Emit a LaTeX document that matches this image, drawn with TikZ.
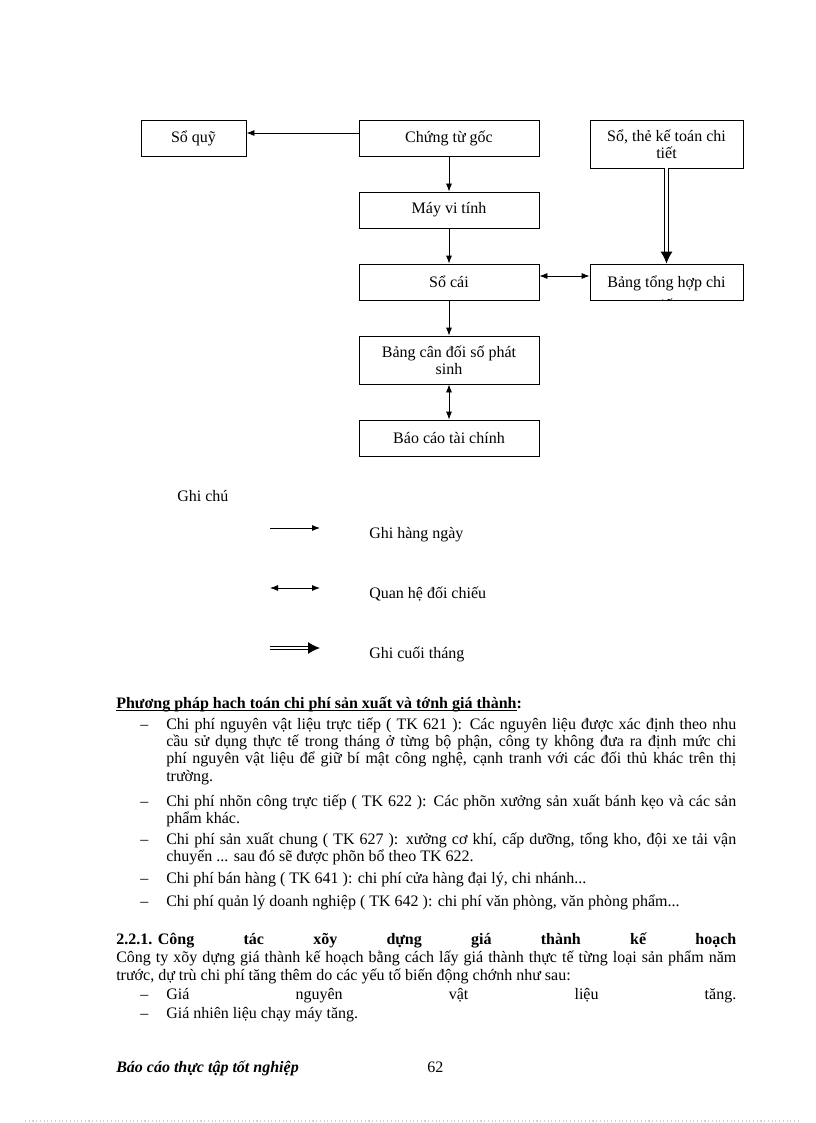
\documentclass[tikz,border=0pt]{standalone}
\usepackage{fontspec}
\setmainfont{Liberation Serif}
\usetikzlibrary{arrows.meta}
\newcommand{\fullLine}[1]{\makebox[427.5pt][s]{#1}}
\newcommand{\wideLine}[1]{\makebox[465pt][s]{#1}}

\begin{document}
\begin{tikzpicture}[x=0.75pt, y=-0.75pt,
        every node/.style={font=\fontsize{12}{12.75}\selectfont}]
        \tikzstyle{boxStyle} = [rectangle,draw=black,line width=0.6pt,minimum width=135pt,minimum height=27pt,inner sep=0pt]
        \tikzstyle{blackEdge} = [draw=black, line width=0.6pt, -{Latex[length=6pt,width=4.5pt]}]
        \tikzstyle{bothEdge} = [draw=black, line width=0.6pt, {Latex[length=6pt,width=4.5pt]}-{Latex[length=6pt,width=4.5pt]}]
        \tikzstyle{doubleEdge} = [draw=black, line width=0.75pt, double, double distance=2pt, -{Latex[length=9pt,width=9pt]}]
        \tikzstyle{textLine} = [anchor=base west, inner sep=0pt]
        \useasboundingbox (0,0) rectangle (816,1123);
        % chart
        \node[boxStyle, minimum width=78.75pt] (Q) at (193.5,138) {Sổ quỹ};
        \node[boxStyle] (G) at (449,138) {Chứng từ gốc};
        \node[boxStyle, minimum width=114.75pt, minimum height=36pt, align=center] (T) at (666.5,144) {Sổ, thẻ kế toán chi\\tiết};
        \node[boxStyle] (M) at (449,210) {Máy vi tính};
        \node[boxStyle] (C) at (449,282) {Sổ cái};
        \node[boxStyle, minimum width=114.75pt] (H) at (666.5,282) {};
        \begin{scope}
            \clip (H.south west) rectangle (H.north east);
            \node[align=center, anchor=north, inner sep=0pt, yshift=-8.75pt] (Ht) at (H.north) {Bảng tổng hợp chi\\[4.5pt]tiết};
        \end{scope}
        \node[boxStyle, minimum height=36pt, align=center] (B) at (449,360) {Bảng cân đối số phát\\sinh};
        \node[boxStyle] (R) at (449,438) {Báo cáo tài chính};
        \path ([yshift=3.75pt]G.west) edge[blackEdge] ([yshift=3.75pt]Q.east);
        \path (G) edge[blackEdge] (M);
        \path (M) edge[blackEdge] (C);
        \path (C) edge[blackEdge] (B);
        \path (B) edge[bothEdge] (R);
        \path ([yshift=4.5pt]C.east) edge[bothEdge] ([yshift=4.5pt]H.west);
        \path (T) edge[doubleEdge] (H);
        % legend
        \node[textLine] (K) at (177,501) {Ghi chú};
        \coordinate (A1) at (270,528);
        \coordinate (B1) at (320,528);
        \coordinate (A2) at (270,588);
        \coordinate (B2) at (320,588);
        \coordinate (A3) at (270,648);
        \coordinate (B3) at (320,648);
        \path (A1) edge[blackEdge] (B1);
        \path (A2) edge[bothEdge] (B2);
        \path (A3) edge[doubleEdge] (B3);
        \node[textLine] (K1) at (369,538) {Ghi hàng ngày};
        \node[textLine] (K2) at (369,598) {Quan hệ đối chiếu};
        \node[textLine] (K3) at (369,658) {Ghi cuối tháng};
        % text
        \node[textLine] (P) at (116,708) {\bfseries\underbar{Phương pháp hach toán chi phí sản xuất và tớnh giá thành}:};
        \node[textLine] (D1) at (140,729) {–};
        \node[textLine] (P1) at (166,729) {\fullLine{Chi phí nguyên vật liệu trực tiếp ( TK 621 ): Các nguyên liệu được xác định theo nhu}};
        \node[textLine] (P2) at (166,746) {\fullLine{cầu sử dụng thực tế trong tháng ở từng bộ phận, công ty không đưa ra định mức chi}};
        \node[textLine] (P3) at (166,763) {\fullLine{phí nguyên vật liệu để giữ bí mật công nghệ, cạnh tranh với các đối thủ khác trên thị}};
        \node[textLine] (P4) at (166,781) {trường.};
        \node[textLine] (D2) at (140,806) {–};
        \node[textLine] (P5) at (166,806) {\fullLine{Chi phí nhõn công trực tiếp ( TK 622 ): Các phõn xưởng sản xuất bánh kẹo và các sản}};
        \node[textLine] (P6) at (166,823) {phẩm khác.};
        \node[textLine] (D3) at (140,844) {–};
        \node[textLine] (P7) at (166,844) {\fullLine{Chi phí sản xuất chung ( TK 627 ): xưởng cơ khí, cấp dưỡng, tổng kho, đội xe tải vận}};
        \node[textLine] (P8) at (166,861) {chuyển ... sau đó sẽ được phõn bổ theo TK 622.};
        \node[textLine] (D4) at (140,883) {–};
        \node[textLine] (P9) at (166,883) {Chi phí bán hàng ( TK 641 ): chi phí cửa hàng đại lý, chi nhánh...};
        \node[textLine] (D5) at (140,906) {–};
        \node[textLine] (P10) at (166,906) {Chi phí quản lý doanh nghiệp ( TK 642 ): chi phí văn phòng, văn phòng phẩm...};
        \node[textLine] (S) at (116,944) {\bfseries\wideLine{2.2.1.\hspace{0.35em}Công tác xõy dựng giá thành kế hoạch}};
        \node[textLine] (S1) at (116,962) {\wideLine{Công ty xõy dựng giá thành kế hoạch bằng cách lấy giá thành thực tế từng loại sản phẩm năm}};
        \node[textLine] (S2) at (116,980) {trước, dự trù chi phí tăng thêm do các yếu tố biến động chớnh như sau:};
        \node[textLine] (D6) at (140,999) {–};
        \node[textLine] (S3) at (166,999) {\fullLine{Giá nguyên vật liệu tăng.}};
        \node[textLine] (D7) at (140,1018) {–};
        \node[textLine] (S4) at (166,1018) {Giá nhiên liệu chạy máy tăng.};
        % footer
        \node[textLine] (F) at (116,1072) {\bfseries\itshape Báo cáo thực tập tốt nghiệp};
        \node[textLine] (F2) at (427,1072) {62};
        \draw[gray!35, dotted, line width=0.8pt] (25,1121) -- (800,1121);
    \end{tikzpicture}
\end{document}
